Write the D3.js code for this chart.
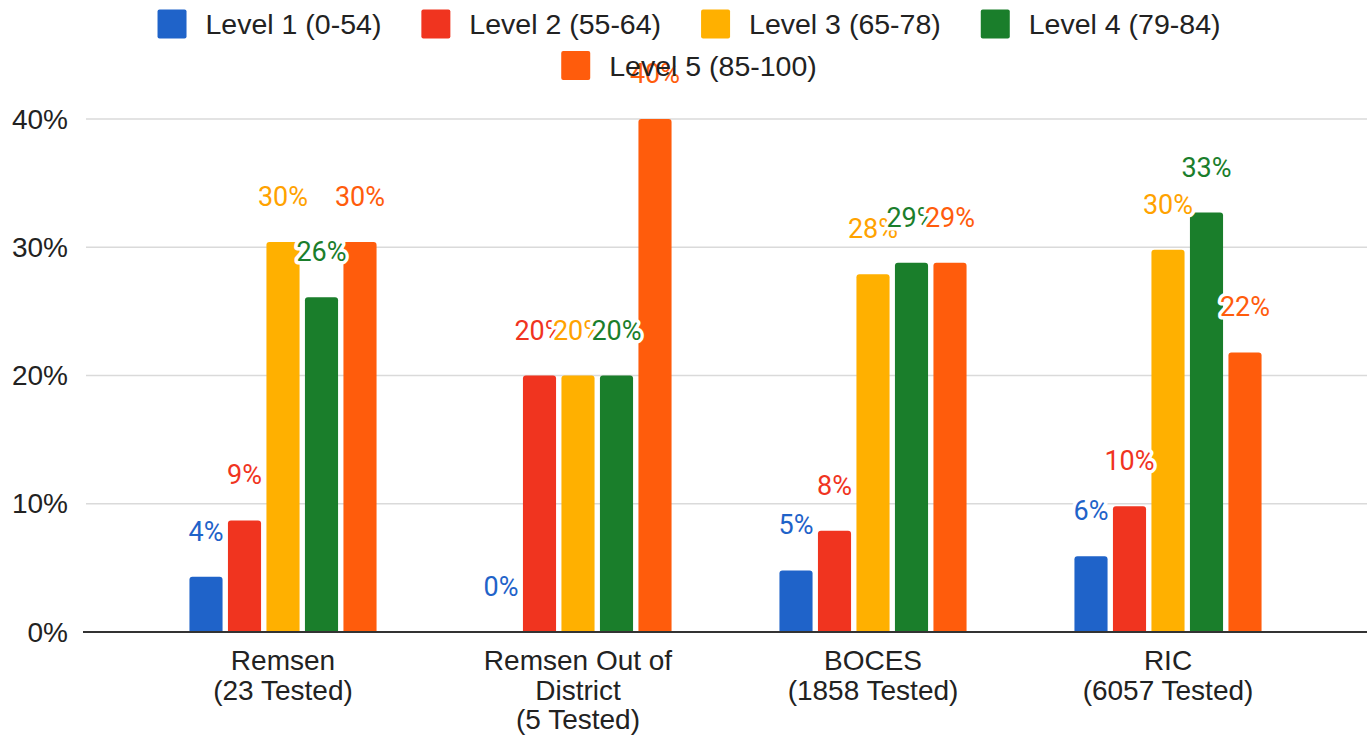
<!DOCTYPE html>
<html>
<head>
<meta charset="utf-8">
<script src="https://cdn.jsdelivr.net/npm/d3@7"></script>
<style>
  html, body { margin: 0; padding: 0; background: #fff; }
  svg { display: block; }
</style>
</head>
<body>
<svg id="chart" width="1372" height="738"></svg>
<script>
// ---- data ----
const categories = ["Remsen\n(23 Tested)", "Remsen Out of\nDistrict\n(5 Tested)", "BOCES\n(1858 Tested)", "RIC\n(6057 Tested)"];
const seriesNames = ["Level 1 (0-54)", "Level 2 (55-64)", "Level 3 (65-78)", "Level 4 (79-84)", "Level 5 (85-100)"];
const level1 = [4.3, 0, 4.8, 5.9];
const level2 = [8.7, 20, 7.9, 9.8];
const level3 = [30.4, 20, 27.9, 29.8];
const level4 = [26.1, 20, 28.8, 32.7];
const level5 = [30.4, 40, 28.8, 21.8];
const yTicks = [0, 10, 20, 30, 40];
const colors = ["#1f63c9", "#f0341f", "#ffb000", "#1a7e2b", "#ff5c0c"];
const labelColors = ["#1f63c9", "#f0341f", "#ffa200", "#1a7e2b", "#ff5c0c"];

const seriesValues = [level1, level2, level3, level4, level5];

const svg = d3.select("#chart");

const plotLeft = 83, plotRight = 1367;
const y = d3.scaleLinear().domain([0, 40]).range([632, 119]);
const x = d3.scaleBand().domain(categories).range([135.5, 1315.5]).padding(0);
const xi = d3.scaleBand().domain(seriesNames).range([-96.25, 96.25]).paddingInner(0.14).paddingOuter(0.07);

// gridlines
svg.append("g").selectAll("line").data(yTicks.filter(t => t > 0)).join("line")
  .attr("x1", plotLeft + 3).attr("x2", plotRight)
  .attr("y1", d => y(d)).attr("y2", d => y(d))
  .attr("stroke", "#dadada").attr("stroke-width", 1.5);

// y tick labels
svg.append("g").selectAll("text").data(yTicks).join("text")
  .attr("x", 68).attr("y", d => y(d))
  .attr("text-anchor", "end").attr("dominant-baseline", "central")
  .attr("font-family", "'Liberation Sans', Arial, sans-serif")
  .attr("font-size", 28).attr("fill", "#222")
  .text(d => d + "%");

// bars
function barPath(x0, w, yTop, yBase, r) {
  const h = yBase - yTop;
  if (h <= 0) return "";
  r = Math.min(r, h, w / 2);
  return `M${x0},${yBase}V${yTop + r}Q${x0},${yTop} ${x0 + r},${yTop}H${x0 + w - r}Q${x0 + w},${yTop} ${x0 + w},${yTop + r}V${yBase}Z`;
}

const barData = [];
categories.forEach((c, ci) => {
  seriesNames.forEach((s, si) => {
    barData.push({ cat: c, ser: s, si, v: seriesValues[si][ci] });
  });
});

const cx = c => x(c) + x.bandwidth() / 2;

svg.append("g").selectAll("path").data(barData).join("path")
  .attr("d", d => barPath(cx(d.cat) + xi(d.ser), xi.bandwidth(), y(d.v), y(0), 3))
  .attr("fill", d => colors[d.si]);

// axis baseline
svg.append("line")
  .attr("x1", plotLeft).attr("x2", plotRight)
  .attr("y1", y(0)).attr("y2", y(0))
  .attr("stroke", "#333").attr("stroke-width", 2);

// value labels
svg.append("g").selectAll("text").data(barData).join("text")
  .attr("x", d => cx(d.cat) + xi(d.ser) + xi.bandwidth() / 2)
  .attr("y", d => y(d.v) - 36)
  .attr("text-anchor", "middle")
  .attr("font-family", "Roboto, 'Noto Sans', sans-serif")
  .attr("font-size", 27)
  .attr("fill", d => labelColors[d.si])
  .attr("stroke", "#fff").attr("stroke-width", 7)
  .attr("stroke-linejoin", "round")
  .attr("paint-order", "stroke")
  .text(d => Math.round(d.v) + "%");

// category labels
const catG = svg.append("g");
categories.forEach(c => {
  const lines = c.split("\n");
  const t = catG.append("text")
    .attr("x", cx(c)).attr("y", 670)
    .attr("text-anchor", "middle")
    .attr("font-family", "'Liberation Sans', Arial, sans-serif")
    .attr("font-size", 28).attr("fill", "#222");
  lines.forEach((ln, i) => {
    t.append("tspan").attr("x", cx(c)).attr("dy", i === 0 ? 0 : 29.5).text(ln);
  });
});

// legend (drawn last so its text stays visible over the 40% label)
const legendRows = [seriesNames.slice(0, 4), seriesNames.slice(4)];
const legendCenter = 689;
const rowY = [24, 65.5];
const sw = 29, gapText = 19, gapItem = 40;
const legG = svg.append("g");
legendRows.forEach((row, ri) => {
  const g = legG.append("g");
  let xPos = 0;
  row.forEach(name => {
    const si = seriesNames.indexOf(name);
    g.append("rect").attr("x", xPos).attr("y", rowY[ri] - sw / 2)
      .attr("width", sw).attr("height", sw).attr("rx", 2)
      .attr("fill", colors[si]);
    const t = g.append("text").attr("x", xPos + sw + gapText).attr("y", rowY[ri])
      .attr("dominant-baseline", "central")
      .attr("font-family", "'Liberation Sans', Arial, sans-serif")
      .attr("font-size", 28.5).attr("fill", "#222")
      .text(name);
    xPos += sw + gapText + t.node().getComputedTextLength() + gapItem;
  });
  const total = xPos - gapItem;
  g.attr("transform", `translate(${legendCenter - total / 2},0)`);
});
</script>
</body>
</html>
